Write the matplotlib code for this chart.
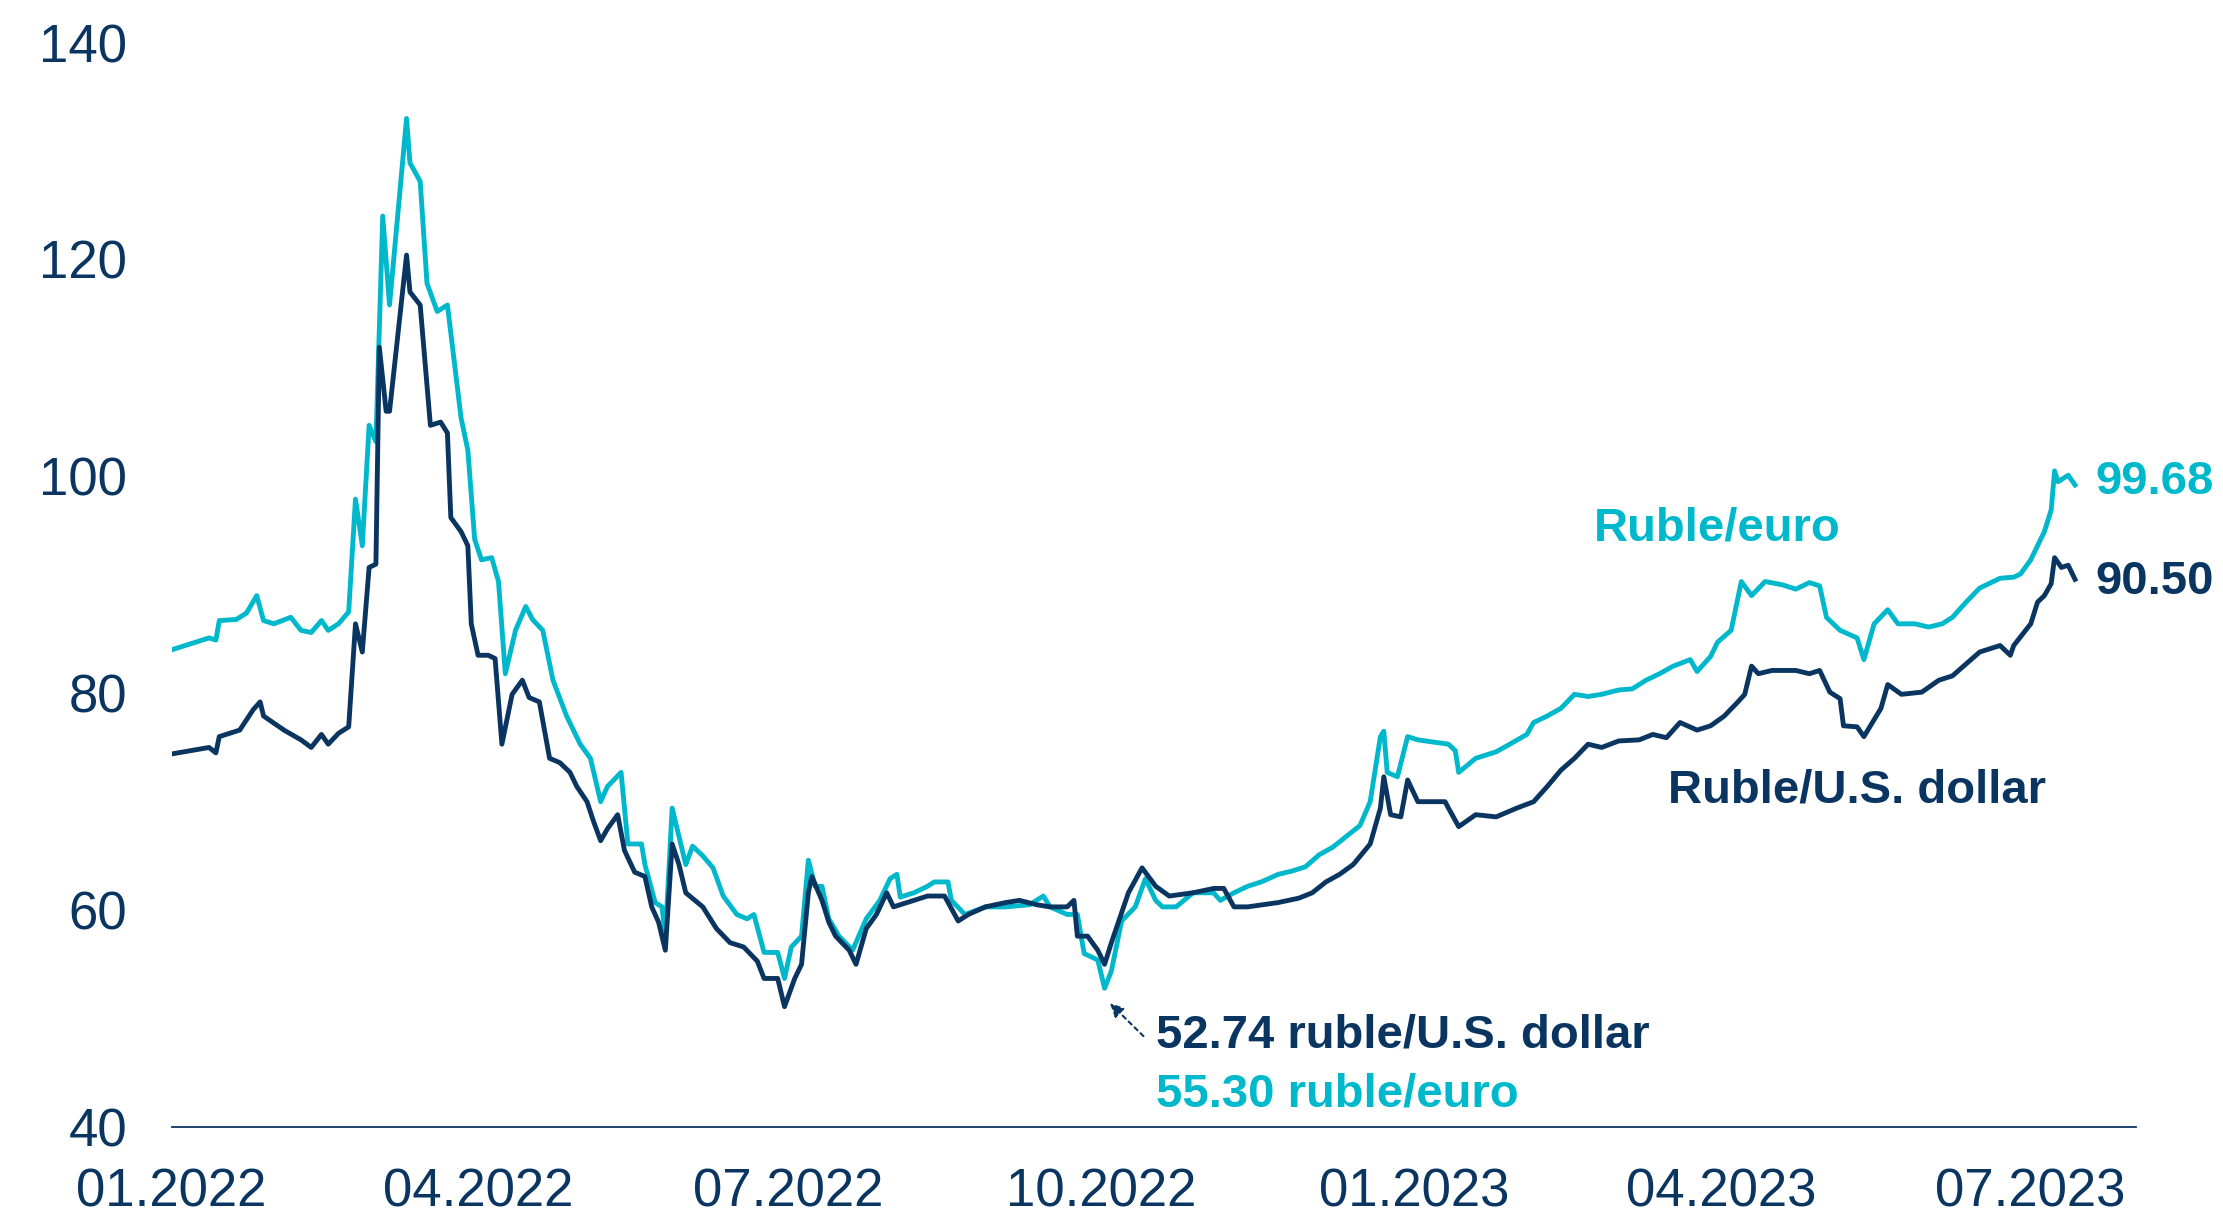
import pandas as pd
import matplotlib
matplotlib.use("Agg")
import matplotlib.pyplot as plt
import matplotlib.dates as mdates

plt.rcParams['font.family'] = ['Liberation Sans', 'DejaVu Sans']

NAVY = "#0b3561"
TEAL = "#00b8cc"

# Ruble per U.S. dollar
usd_dates = [
    "2022-01-01", "2022-01-12", "2022-01-14", "2022-01-15", "2022-01-21", "2022-01-25", "2022-01-27",
    "2022-01-28", "2022-02-03", "2022-02-08", "2022-02-11", "2022-02-14", "2022-02-16", "2022-02-19",
    "2022-02-22", "2022-02-24", "2022-02-26", "2022-02-28", "2022-03-02", "2022-03-03", "2022-03-05",
    "2022-03-06", "2022-03-11", "2022-03-12", "2022-03-15", "2022-03-18", "2022-03-21", "2022-03-23",
    "2022-03-24", "2022-03-27", "2022-03-29", "2022-03-30", "2022-04-01", "2022-04-04", "2022-04-06",
    "2022-04-08", "2022-04-11", "2022-04-14", "2022-04-16", "2022-04-19", "2022-04-22", "2022-04-25",
    "2022-04-28", "2022-04-30", "2022-05-03", "2022-05-05", "2022-05-07", "2022-05-09", "2022-05-12",
    "2022-05-14", "2022-05-17", "2022-05-20", "2022-05-22", "2022-05-24", "2022-05-26", "2022-05-28",
    "2022-05-30", "2022-06-01", "2022-06-06", "2022-06-10", "2022-06-14", "2022-06-18", "2022-06-22",
    "2022-06-24", "2022-06-28", "2022-06-30", "2022-07-03", "2022-07-05", "2022-07-07", "2022-07-08",
    "2022-07-11", "2022-07-13", "2022-07-15", "2022-07-19", "2022-07-21", "2022-07-24", "2022-07-27",
    "2022-07-30", "2022-08-01", "2022-08-05", "2022-08-11", "2022-08-16", "2022-08-20", "2022-08-23",
    "2022-08-28", "2022-09-03", "2022-09-07", "2022-09-12", "2022-09-16", "2022-09-21", "2022-09-23",
    "2022-09-24", "2022-09-27", "2022-09-30", "2022-10-02", "2022-10-04", "2022-10-09", "2022-10-13",
    "2022-10-17", "2022-10-21", "2022-10-28", "2022-11-03", "2022-11-06", "2022-11-09", "2022-11-13",
    "2022-11-22", "2022-11-28", "2022-12-02", "2022-12-06", "2022-12-10", "2022-12-14", "2022-12-19",
    "2022-12-22", "2022-12-23", "2022-12-25", "2022-12-28", "2022-12-30", "2023-01-02", "2023-01-10",
    "2023-01-11", "2023-01-14", "2023-01-19", "2023-01-25", "2023-01-31", "2023-02-05", "2023-02-09",
    "2023-02-13", "2023-02-17", "2023-02-21", "2023-02-25", "2023-03-02", "2023-03-08", "2023-03-12",
    "2023-03-16", "2023-03-20", "2023-03-25", "2023-03-29", "2023-04-02", "2023-04-06", "2023-04-08",
    "2023-04-10", "2023-04-12", "2023-04-16", "2023-04-23", "2023-04-27", "2023-04-30", "2023-05-03",
    "2023-05-06", "2023-05-07", "2023-05-11", "2023-05-13", "2023-05-18", "2023-05-20", "2023-05-24",
    "2023-05-30", "2023-06-04", "2023-06-08", "2023-06-12", "2023-06-16", "2023-06-20", "2023-06-22",
    "2023-06-25", "2023-06-26", "2023-07-01", "2023-07-03", "2023-07-05", "2023-07-07", "2023-07-08",
    "2023-07-10", "2023-07-12", "2023-07-14",
]
usd_values = [
    74.4, 75.0, 74.5, 76.0, 76.6, 78.5, 79.2,
    77.9, 76.6, 75.7, 75.0, 76.2, 75.3, 76.3,
    76.9, 86.4, 83.8, 91.6, 91.9, 111.9, 106.0,
    106.0, 120.4, 117.0, 115.8, 104.7, 105.0, 104.0,
    96.2, 94.9, 93.6, 86.4, 83.5, 83.5, 83.2,
    75.3, 79.9, 81.2, 79.6, 79.2, 74.0, 73.6,
    72.7, 71.4, 70.0, 68.1, 66.4, 67.5, 68.8,
    65.5, 63.5, 63.1, 60.3, 58.9, 56.3, 66.1,
    64.2, 61.6, 60.3, 58.3, 57.0, 56.6, 55.3,
    53.7, 53.7, 51.1, 53.7, 55.0, 61.6, 63.1,
    60.9, 58.9, 57.6, 56.3, 55.0, 58.3, 59.6,
    61.6, 60.3, 60.7, 61.3, 61.3, 59.0, 59.6,
    60.3, 60.7, 60.9, 60.5, 60.3, 60.3, 60.9,
    57.6, 57.6, 56.3, 55.0, 57.0, 61.6, 63.9,
    62.2, 61.3, 61.6, 62.0, 62.0, 60.3, 60.3,
    60.7, 61.1, 61.6, 62.6, 63.3, 64.2, 66.1,
    69.4, 72.3, 68.8, 68.6, 72.0, 70.0, 70.0,
    69.4, 67.7, 68.8, 68.6, 69.4, 70.0, 71.4,
    72.9, 74.0, 75.3, 75.0, 75.6, 75.7, 76.2,
    75.9, 77.3, 76.6, 77.0, 77.9, 79.2, 79.9,
    82.5, 81.8, 82.1, 82.1, 81.8, 82.1, 80.1,
    79.5, 77.0, 76.9, 76.0, 78.6, 80.8, 79.9,
    80.1, 81.2, 81.6, 82.7, 83.8, 84.2, 84.4,
    83.5, 84.4, 86.4, 88.4, 89.0, 90.1, 92.5,
    91.6, 91.8, 90.5,
]

# Ruble per euro
eur_dates = [
    "2022-01-01", "2022-01-12", "2022-01-14", "2022-01-15", "2022-01-20", "2022-01-23", "2022-01-26",
    "2022-01-28", "2022-01-31", "2022-02-05", "2022-02-08", "2022-02-11", "2022-02-14", "2022-02-16",
    "2022-02-19", "2022-02-22", "2022-02-24", "2022-02-26", "2022-02-28", "2022-03-02", "2022-03-04",
    "2022-03-06", "2022-03-11", "2022-03-12", "2022-03-15", "2022-03-17", "2022-03-20", "2022-03-23",
    "2022-03-24", "2022-03-27", "2022-03-29", "2022-03-31", "2022-04-02", "2022-04-05", "2022-04-07",
    "2022-04-09", "2022-04-12", "2022-04-15", "2022-04-17", "2022-04-20", "2022-04-23", "2022-04-27",
    "2022-05-01", "2022-05-04", "2022-05-07", "2022-05-09", "2022-05-13", "2022-05-15", "2022-05-19",
    "2022-05-20", "2022-05-23", "2022-05-25", "2022-05-26", "2022-05-28", "2022-05-30", "2022-06-01",
    "2022-06-03", "2022-06-06", "2022-06-09", "2022-06-12", "2022-06-16", "2022-06-19", "2022-06-21",
    "2022-06-24", "2022-06-28", "2022-06-30", "2022-07-02", "2022-07-05", "2022-07-07", "2022-07-09",
    "2022-07-11", "2022-07-13", "2022-07-16", "2022-07-20", "2022-07-24", "2022-07-28", "2022-07-31",
    "2022-08-02", "2022-08-03", "2022-08-07", "2022-08-11", "2022-08-13", "2022-08-17", "2022-08-18",
    "2022-08-22", "2022-08-28", "2022-09-03", "2022-09-10", "2022-09-14", "2022-09-16", "2022-09-21",
    "2022-09-24", "2022-09-26", "2022-09-30", "2022-10-02", "2022-10-04", "2022-10-07", "2022-10-11",
    "2022-10-14", "2022-10-17", "2022-10-19", "2022-10-23", "2022-10-28", "2022-11-03", "2022-11-05",
    "2022-11-09", "2022-11-13", "2022-11-17", "2022-11-22", "2022-11-26", "2022-11-30", "2022-12-04",
    "2022-12-08", "2022-12-12", "2022-12-16", "2022-12-19", "2022-12-22", "2022-12-23", "2022-12-24",
    "2022-12-27", "2022-12-30", "2023-01-02", "2023-01-11", "2023-01-13", "2023-01-14", "2023-01-19",
    "2023-01-25", "2023-01-29", "2023-02-03", "2023-02-05", "2023-02-09", "2023-02-13", "2023-02-17",
    "2023-02-21", "2023-02-25", "2023-03-02", "2023-03-06", "2023-03-10", "2023-03-14", "2023-03-18",
    "2023-03-23", "2023-03-25", "2023-03-29", "2023-03-31", "2023-04-04", "2023-04-07", "2023-04-10",
    "2023-04-14", "2023-04-19", "2023-04-23", "2023-04-27", "2023-04-30", "2023-05-02", "2023-05-06",
    "2023-05-11", "2023-05-13", "2023-05-16", "2023-05-20", "2023-05-23", "2023-05-28", "2023-06-01",
    "2023-06-05", "2023-06-08", "2023-06-12", "2023-06-16", "2023-06-22", "2023-06-26", "2023-06-28",
    "2023-07-01", "2023-07-05", "2023-07-07", "2023-07-08", "2023-07-09", "2023-07-12", "2023-07-14",
]
eur_values = [
    84.0, 85.1, 84.9, 86.7, 86.8, 87.4, 89.0,
    86.7, 86.4, 87.0, 85.8, 85.6, 86.7, 85.8,
    86.4, 87.5, 97.9, 93.6, 104.7, 103.2, 124.0,
    115.8, 133.0, 128.9, 127.2, 117.8, 115.2, 115.8,
    113.2, 105.4, 102.4, 94.2, 92.3, 92.5, 90.3,
    81.8, 85.8, 88.0, 86.8, 85.8, 81.2, 77.9,
    75.3, 74.0, 70.0, 71.4, 72.7, 66.1, 66.1,
    64.2, 60.7, 60.3, 57.6, 69.4, 66.8, 64.2,
    65.9, 65.0, 63.9, 61.3, 59.6, 59.2, 59.6,
    56.1, 56.1, 53.7, 56.6, 57.6, 64.6, 62.2,
    62.2, 59.2, 57.6, 56.3, 59.2, 60.9, 62.9,
    63.3, 61.2, 61.6, 62.2, 62.6, 62.6, 60.9,
    59.6, 60.3, 60.3, 60.5, 61.3, 60.3, 59.6,
    59.6, 56.0, 55.4, 52.8, 54.4, 59.0, 60.3,
    62.9, 60.9, 60.3, 60.3, 61.6, 61.6, 60.9,
    61.6, 62.2, 62.6, 63.3, 63.6, 64.0, 65.1,
    65.8, 66.8, 67.8, 70.0, 76.0, 76.5, 72.7,
    72.3, 76.0, 75.7, 75.3, 74.7, 72.7, 74.0,
    74.6, 75.3, 76.2, 77.3, 77.9, 78.6, 79.9,
    79.7, 79.9, 80.3, 80.4, 81.2, 81.8, 82.5,
    83.1, 82.0, 83.4, 84.7, 85.8, 90.3, 89.0,
    90.3, 90.0, 89.6, 90.2, 89.9, 87.0, 85.8,
    85.1, 83.1, 86.4, 87.7, 86.4, 86.4, 86.1,
    86.4, 87.0, 88.4, 89.7, 90.6, 90.7, 91.0,
    92.3, 94.9, 96.9, 100.5, 99.5, 100.1, 99.2,
]

xtick_dates = ["2022-01-01", "2022-04-01", "2022-07-01", "2022-10-01",
               "2023-01-01", "2023-04-01", "2023-07-01"]
yticks = [40, 60, 80, 100, 120, 140]

usd = pd.Series(usd_values, index=pd.to_datetime(usd_dates))
eur = pd.Series(eur_values, index=pd.to_datetime(eur_dates))

fig = plt.figure(figsize=(22.23, 12.15), dpi=100)
ax = fig.add_axes([0.0772, 0.0724, 0.8838, 0.8926])

ax.plot(eur.index, eur.values, color=TEAL, lw=3.5, solid_joinstyle="round")
ax.plot(usd.index, usd.values, color=NAVY, lw=3.5, solid_joinstyle="round")

ax.set_xlim(pd.Timestamp("2022-01-01"), pd.Timestamp("2023-08-01"))
ax.set_ylim(40, 140)
ax.set_xticks(pd.to_datetime(xtick_dates))
ax.xaxis.set_major_formatter(mdates.DateFormatter("%m.%Y"))
ax.set_yticks(yticks)

for s in ["top", "right", "left"]:
    ax.spines[s].set_visible(False)
ax.spines["bottom"].set_color(NAVY)
ax.spines["bottom"].set_linewidth(1.3)
ax.tick_params(axis="both", length=0, labelsize=38, labelcolor=NAVY)
ax.tick_params(axis="y", pad=32)
ax.tick_params(axis="x", pad=29)

bold = dict(fontsize=34, fontweight="bold")
ax.text(pd.Timestamp("2023-03-31"), 95.2, "Ruble/euro", color=TEAL, ha="center", va="center", **bold)
ax.text(pd.Timestamp("2023-05-11"), 71.0, "Ruble/U.S. dollar", color=NAVY, ha="center", va="center", **bold)
ax.text(pd.Timestamp("2023-07-20"), 99.5, "99.68", color=TEAL, ha="left", va="center", **bold)
ax.text(pd.Timestamp("2023-07-20"), 90.3, "90.50", color=NAVY, ha="left", va="center", **bold)
ax.text(pd.Timestamp("2022-10-17"), 48.4, "52.74 ruble/U.S. dollar", color=NAVY, ha="left", va="center", **bold)
ax.text(pd.Timestamp("2022-10-17"), 43.0, "55.30 ruble/euro", color=TEAL, ha="left", va="center", **bold)

ax.annotate("", xy=(pd.Timestamp("2022-10-03"), 51.6), xytext=(pd.Timestamp("2022-10-14"), 48.2),
            arrowprops=dict(arrowstyle="-|>", color=NAVY, lw=1.5, linestyle=(0, (2, 2)),
                            mutation_scale=20))

fig.savefig("out.png", dpi=100, facecolor="white")
